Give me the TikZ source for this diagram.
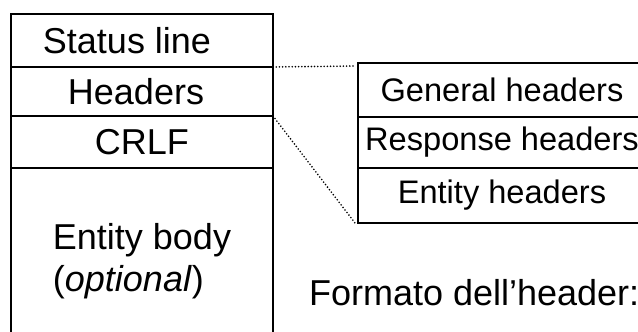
\documentclass[tikz,border=0pt]{standalone}
\usepackage{fontspec}
\setmainfont{Liberation Sans}
\usetikzlibrary{positioning}

\tikzset{
  msgrow/.style = {draw, line width = 1pt, outer sep = 0pt, inner sep = 0pt,
    minimum width = 131pt, font = \fontsize{18}{21}\selectfont},
  hdrrow/.style = {draw, line width = 1pt, outer sep = 0pt, inner sep = 0pt,
    minimum width = 144pt, font = \fontsize{16.3}{19}\selectfont},
  zoomline/.style = {black, line width = 0.9pt, line cap = round, dash pattern = on 0pt off 1.6pt}
}

\begin{document}
\begin{tikzpicture}[x = 0.5pt, y = -0.5pt]
  \useasboundingbox (0, 0) rectangle (638, 332);
  % HTTP response message
  \node [msgrow, minimum height = 26.5pt] (status) at (142, 40.5) {Status line\kern 15pt};
  \node [msgrow, minimum height = 24.5pt, below = 0pt of status] (headers) {Headers\kern 6pt};
  \node [msgrow, minimum height = 26pt, below = 0pt of headers] (crlf) {CRLF};
  \node [msgrow, minimum height = 93pt, below = 0pt of crlf, align = left] (body) {Entity body\\(\textit{optional})};
  % header types
  \node [hdrrow, minimum height = 27pt] (general) at (502, 90) {General headers};
  \node [hdrrow, minimum height = 25.5pt, below = 0pt of general] (response) {Response headers};
  \node [hdrrow, minimum height = 27.5pt, below = 0pt of response] (entity) {Entity headers};
  \draw [zoomline] (headers.north east) -- ([xshift = -1.5pt, yshift = -1.5pt] general.north west);
  \draw [zoomline] (headers.south east) -- ([xshift = -1.5pt] entity.south west);
  \node [anchor = base west, font = \fontsize{18}{21}\selectfont] (caption) at (302, 305) {Formato dell’header:};
\end{tikzpicture}
\end{document}
